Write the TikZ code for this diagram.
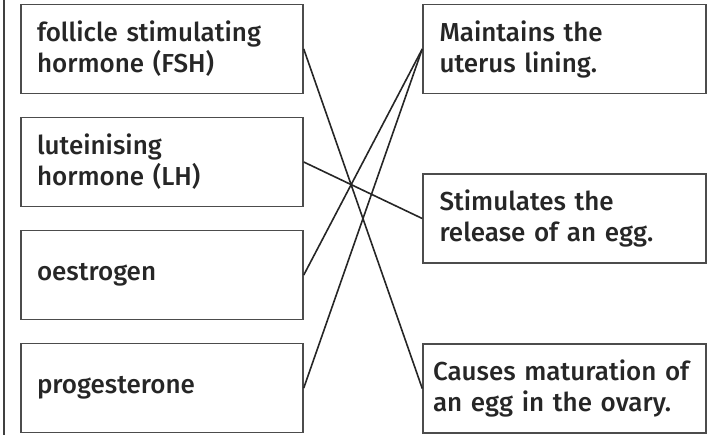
\documentclass[tikz,border=0pt]{standalone}
\usepackage{fontspec}
\setmainfont{Fira Sans Medium}
\usetikzlibrary{positioning}

\begin{document}
\begin{tikzpicture}[x=0.5pt,y=-0.5pt,font=\fontsize{13}{15.5}\selectfont,
   hormone/.style={draw=black!70,line width=0.75pt,minimum width=141pt,minimum height=44.5pt,
     text width=125pt,inner xsep=8pt,align=left,text=black!85},
   effect/.style={hormone,minimum width=141.5pt},
   match/.style={line width=0.8pt,black!85}]
  \useasboundingbox (0,0) rectangle (716,435);
  \draw[line width=1pt,black!75] (4,0) -- (4,435);
  \node[hormone] (fsh)  at (162,49)  {follicle stimulating\\hormone (FSH)};
  \node[hormone] (lh)   at (162,162) {luteinising\\hormone (LH)};
  \node[hormone] (oes)  at (162,275) {oestrogen};
  \node[hormone] (prog) at (162,388) {progesterone};
  \node[effect] (lining)  at (564.5,49)    {Maintains the\\uterus lining.};
  \node[effect] (release) at (564.5,218.5) {Stimulates the\\release of an egg.};
  \node[effect,inner xsep=5pt,text width=131.5pt] (mature) at (564.5,388.5) {Causes maturation of\\an egg in the ovary.};
  \draw[match] (fsh.east)  -- (mature.west);
  \draw[match] (lh.east)   -- (release.west);
  \draw[match] (oes.east)  -- (lining.west);
  \draw[match] (prog.east) -- (lining.west);
\end{tikzpicture}
\end{document}
